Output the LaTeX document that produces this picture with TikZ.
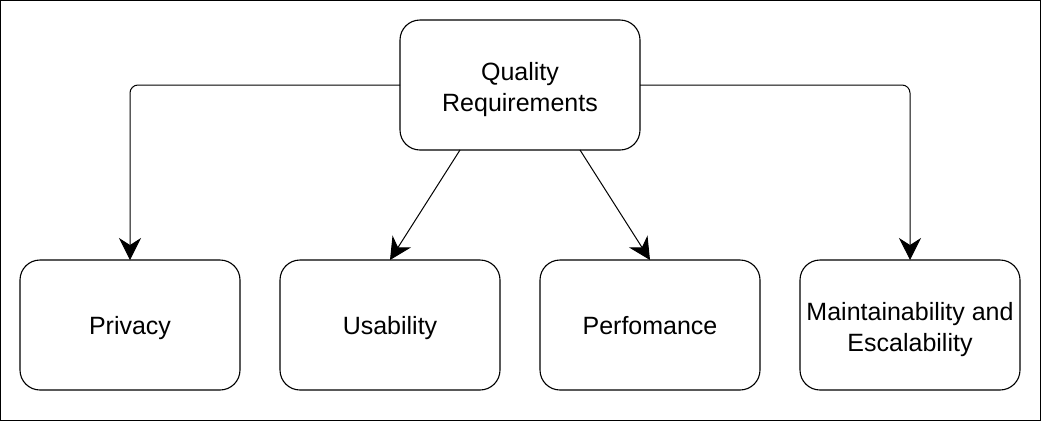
\documentclass[tikz,border=0pt]{standalone}
\usepackage{fontspec}
\setmainfont{Liberation Sans}
\usetikzlibrary{arrows.meta}
\newcommand{\lift}{\rule{0pt}{26.5pt}}
\begin{document}
\begin{tikzpicture}[x=1pt,y=-1pt,
  box/.style={draw, line width=1.1pt, rounded corners=20pt, outer sep=0pt, align=center,
    font=\fontsize{25pt}{31pt}\selectfont, inner sep=0pt},
  onebox/.style={box, text height=18pt, text depth=0pt},
  bottombox/.style={minimum width=220pt, minimum height=130pt},
  arr/.style={line width=1pt, -{Stealth[length=22pt, width=22pt, inset=7pt]}}
]
\useasboundingbox (0,0) rectangle (1041,421);
\draw[line width=1.4pt] (0.7,0.7) rectangle (1040.3,420.3);
\node[box, minimum width=240pt, minimum height=130pt] (top) at (520,85) {\lift Quality\\Requirements};
\node[onebox, bottombox] (priv) at (130,325) {Privacy};
\node[onebox, bottombox] (usab) at (390,325) {Usability};
\node[onebox, bottombox] (perf) at (650,325) {Perfomance};
\node[box, bottombox] (main) at (910,325) {\lift Maintainability and\\Escalability};
\draw[arr, rounded corners=8pt] (top.west) -| (priv.north);
\draw[arr, rounded corners=8pt] (top.east) -| (main.north);
\draw[arr] ([xshift=-60pt]top.south) -- (usab.north);
\draw[arr] ([xshift=60pt]top.south) -- (perf.north);
\end{tikzpicture}
\end{document}
